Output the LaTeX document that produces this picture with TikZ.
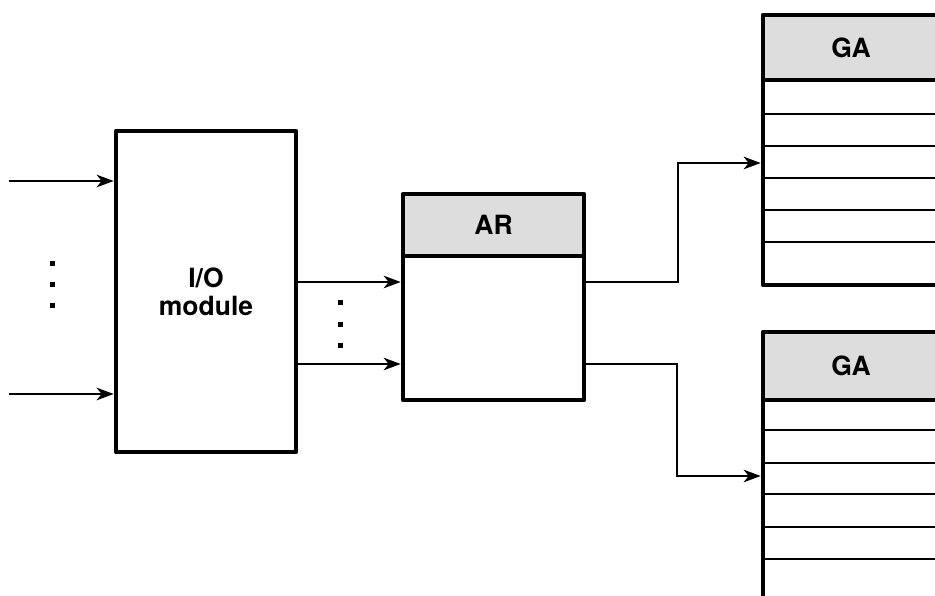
\documentclass[tikz,border=0pt]{standalone}
\usepackage{fontspec}
\setmainfont{TeX Gyre Heros}
\usetikzlibrary{arrows.meta}
\definecolor{hdr}{HTML}{DDDDDD}
\tikzset{
  box/.style={draw, line width=4.6pt, line join=round, rectangle, inner sep=0pt, outer sep=0pt,
    font=\fontsize{26.5}{28}\selectfont\bfseries, align=center},
  hdrbox/.style={box, fill=hdr},
  rowline/.style={line width=2.3pt},
  arr/.style={line width=2.3pt, -{Stealth[length=17pt,width=12.5pt,inset=5pt]}, shorten >=2.3pt},
  dotmark/.style={fill, rectangle, minimum size=5pt, inner sep=0pt},
}
\begin{document}
\begin{tikzpicture}[x=1pt,y=-1pt]
\clip (0,0) rectangle (935,596);
\fill[white] (0,0) rectangle (935,596);

% I/O module
\node[box, minimum width=180, minimum height=321, anchor=north west] (io) at (116,131) {I/O\\module};

% inputs
\coordinate (in1) at (9,181);
\coordinate (in2) at (9,394);
\draw[arr] (in1) -- (in1 -| io.west);
\draw[arr] (in2) -- (in2 -| io.west);
\node[dotmark] (d1) at (52,264) {};
\node[dotmark] (d2) at (52,285) {};
\node[dotmark] (d3) at (52,306) {};

% AR
\node[hdrbox, minimum width=181, minimum height=62, anchor=north west] (arh) at (403,194) {AR};
\node[box, minimum width=181, minimum height=144, anchor=north] (arb) at (arh.south) {};

% I/O -> AR
\coordinate (m1) at (0,282);
\coordinate (m2) at (0,364);
\draw[arr] (io.east |- m1) -- (arb.west |- m1);
\draw[arr] (io.east |- m2) -- (arb.west |- m2);
\node[dotmark] (e1) at (340,303) {};
\node[dotmark] (e2) at (340,324) {};
\node[dotmark] (e3) at (340,345) {};

% upper GA
\node[hdrbox, minimum width=176, minimum height=65, anchor=north west] (gah1) at (763,15) {GA};
\node[box, minimum width=176, minimum height=205, anchor=north] (gab1) at (gah1.south) {};
\foreach \yy in {114,146,178,210,242}
  \draw[rowline] (gab1.west |- 0,\yy) -- (gab1.east |- 0,\yy);

% lower GA
\node[hdrbox, minimum width=176, minimum height=68, anchor=north west] (gah2) at (763,332) {GA};
\node[box, minimum width=176, minimum height=260, anchor=north] (gab2) at (gah2.south) {};
\foreach \yy in {430,463,494,527,559}
  \draw[rowline] (gab2.west |- 0,\yy) -- (gab2.east |- 0,\yy);

% AR -> GA
\coordinate (t1) at (678,163);
\coordinate (t2) at (677,476);
\draw[arr] (arb.east |- m1) -| (t1) -- (gab1.west |- t1);
\draw[arr] (arb.east |- m2) -| (t2) -- (gab2.west |- t2);
\end{tikzpicture}
\end{document}
